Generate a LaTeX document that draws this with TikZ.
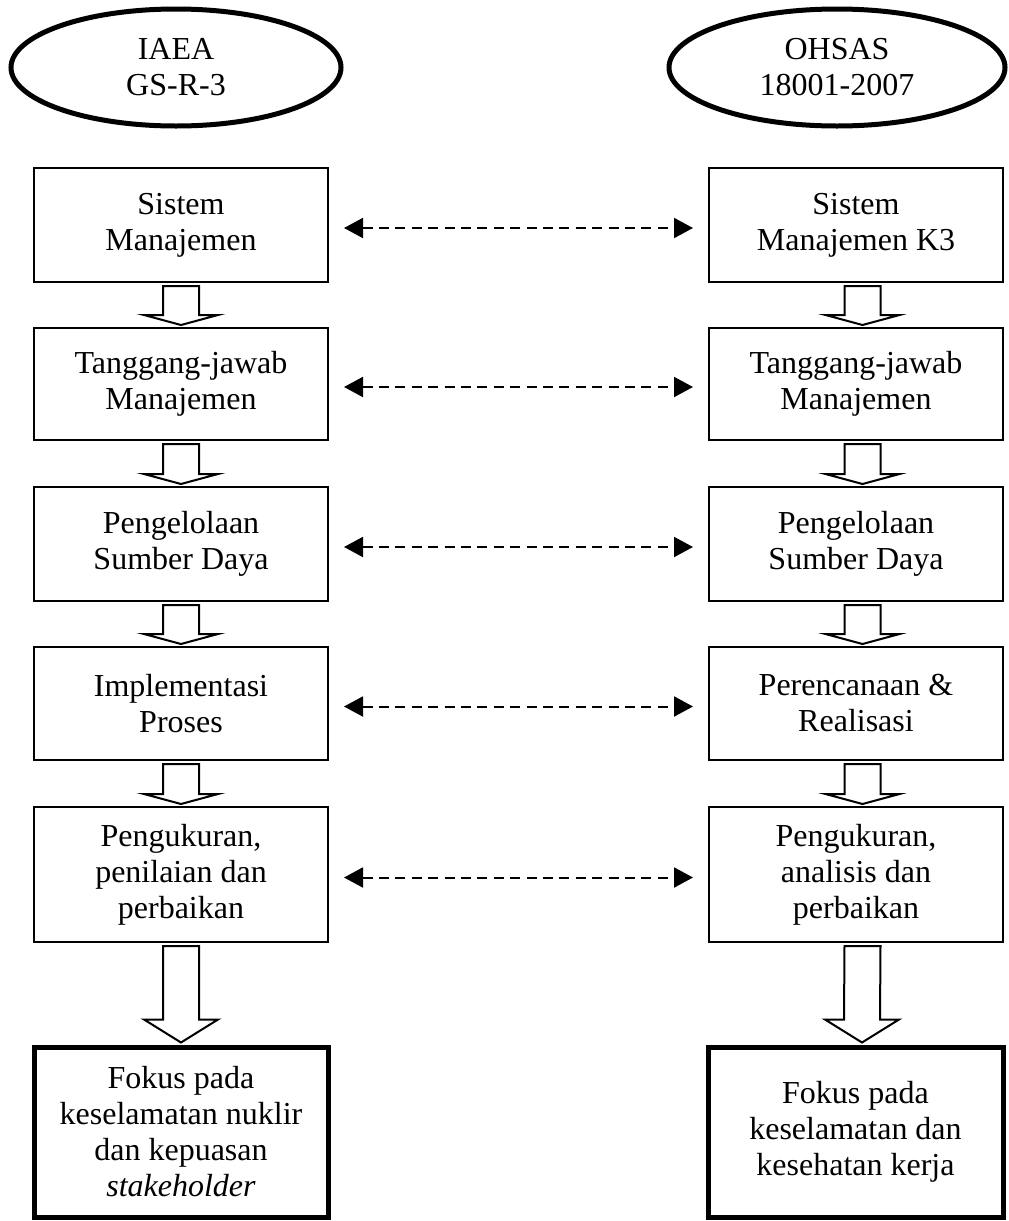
\documentclass[tikz,border=0pt]{standalone}
\usepackage{fontspec}
\setmainfont{Liberation Serif}
\usetikzlibrary{arrows.meta,calc,shapes.geometric}

\tikzset{
  stepbox/.style={draw, rectangle, line width=1pt, align=center, minimum width=147pt, inner sep=0pt},
  goalbox/.style={stepbox, line width=2.5pt},
  standard/.style={draw, ellipse, line width=2.5pt, align=center, minimum width=165pt, minimum height=58.5pt, inner sep=0pt},
  link/.style={line width=1pt, dash pattern=on 5pt off 3.2pt, arrows={Triangle[length=9.5pt,width=10pt]-Triangle[length=9.5pt,width=10pt]}, shorten <=7.5pt, shorten >=7.5pt},
  blockarrow/.style={line width=1pt, fill=white, line join=miter}
}

% hollow arrow: [x shift]{from}{to}{head length}
\newcommand{\hollowarrow}[4][0]{%
  \draw [blockarrow] ($(#2.south)+(#1-18,3)$) -- ($(#3.north)+(#1-18,-2-#4)$) -- ++(-19,0)
    -- ($(#3.north)+(#1,-2)$) -- ++(37,-#4) -- ++(-19,0) -- ($(#2.south)+(#1+18,3)$) -- cycle;
}

\begin{document}
\begin{tikzpicture}[x=0.5pt, y=-0.5pt, font=\fontsize{16}{18}\selectfont]
    \useasboundingbox (0, 0) rectangle (1008, 1221);

    \node [standard] (iaea) at (176, 67.5) {IAEA \\ GS-R-3};
    \node [standard, minimum width=168pt] (ohsas) at (837, 67.5) {OHSAS \\ 18001-2007};

    % IAEA
    \node [stepbox, minimum height=57pt] (L1) at (181, 225) {Sistem \\ Manajemen};
    \node [stepbox, minimum height=56pt] (L2) at (181, 384) {Tanggang-jawab \\ Manajemen};
    \node [stepbox, minimum height=57pt] (L3) at (181, 544) {Pengelolaan \\ Sumber Daya};
    \node [stepbox, minimum height=56.5pt] (L4) at (181, 703.5) {Implementasi \\ Proses};
    \node [stepbox, minimum height=67.5pt] (L5) at (181, 874.5) {Pengukuran, \\ penilaian dan \\ perbaikan};
    \node [goalbox, minimum height=85pt] (LF) at (181, 1132) {Fokus pada \\ keselamatan nuklir \\ dan kepuasan \\ \textit{stakeholder}};

    % OHSAS
    \node [stepbox, minimum height=57pt] (R1) at (856, 225) {Sistem \\ Manajemen K3};
    \node [stepbox, minimum height=56pt] (R2) at (856, 384) {Tanggang-jawab \\ Manajemen};
    \node [stepbox, minimum height=57pt] (R3) at (856, 544) {Pengelolaan \\ Sumber Daya};
    \node [stepbox, minimum height=56.5pt] (R4) at (856, 703.5) {Perencanaan \& \\ Realisasi};
    \node [stepbox, minimum height=67.5pt] (R5) at (856, 874.5) {Pengukuran, \\ analisis dan \\ perbaikan};
    \node [goalbox, minimum height=85pt, minimum width=147.5pt] (RF) at (855.5, 1132) {Fokus pada \\ keselamatan dan \\ kesehatan kerja};

    \hollowarrow{L1}{L2}{10}
    \hollowarrow{L2}{L3}{10}
    \hollowarrow{L3}{L4}{10}
    \hollowarrow{L4}{L5}{10}
    \hollowarrow{L5}{LF}{23}

    \hollowarrow[6.5]{R1}{R2}{10}
    \hollowarrow[6.5]{R2}{R3}{10}
    \hollowarrow[6.5]{R3}{R4}{10}
    \hollowarrow[6.5]{R4}{R5}{10}
    \hollowarrow[6.5]{R5}{RF}{23}

    \foreach \i in {1,...,5}
        \draw [link] ([yshift=-1.5pt]L\i.east) -- ([yshift=-1.5pt]R\i.west);

\end{tikzpicture}
\end{document}
